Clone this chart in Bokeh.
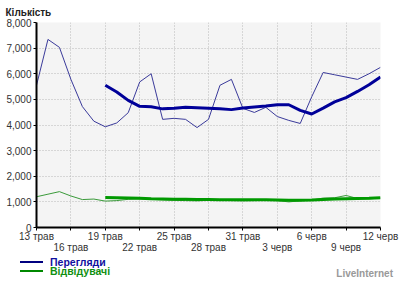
from bokeh.plotting import figure
from bokeh.layouts import column
from bokeh.embed import file_html
from bokeh.resources import INLINE
from bokeh.models import FixedTicker, NumeralTickFormatter, LinearAxis, Div

# ---- data ----
days = list(range(31))  # 13 трав .. 12 черв
tick_days = [0, 3, 6, 9, 12, 15, 18, 21, 24, 27, 30]
tick_labels = ["13 трав", "16 трав", "19 трав", "22 трав", "25 трав", "28 трав",
               "31 трав", "3 черв", "6 черв", "9 черв", "12 черв"]
y_ticks = [0, 1000, 2000, 3000, 4000, 5000, 6000, 7000, 8000]
series_names = ["Перегляди", "Відвідувачі"]

views_daily = [5550, 7340, 7030, 5780, 4720, 4150, 3930, 4080, 4480, 5680, 6000,
               4220, 4260, 4220, 3900, 4220, 5550, 5780, 4650, 4490, 4690,
               4330, 4180, 4060, 5100, 6050, 5960, 5870, 5780, 6000, 6250]
views_avg = [5550, 5290, 4960, 4730, 4710, 4630, 4650, 4690, 4670, 4650, 4630,
             4600, 4660, 4700, 4740, 4790, 4790, 4570, 4430, 4660, 4900, 5070,
             5310, 5570, 5870]
visitors_daily = [1200, 1300, 1400, 1230, 1090, 1110, 1030, 1050, 1100, 1120, 1100,
                  1080, 1060, 1050, 1040, 1060, 1070, 1050, 1040, 1050, 1060,
                  1050, 1000, 1040, 1070, 1150, 1160, 1250, 1130, 1120, 1150]
visitors_avg = [1170, 1160, 1150, 1140, 1120, 1110, 1100, 1100, 1090, 1090, 1080,
                1080, 1080, 1080, 1080, 1070, 1060, 1060, 1070, 1090, 1110, 1120,
                1130, 1140, 1160]
avg_days = days[6:]

FONT = "Liberation Sans"
P_H = 257

p = figure(width=400, height=P_H, x_range=(0, 30), y_range=(0, 8000),
           output_backend="svg", toolbar_location=None,
           min_border_left=36, min_border_right=20, min_border_top=22,
           min_border_bottom=30, background_fill_color="#f4f4f4",
           border_fill_color="white", outline_line_color=None)

# lines
p.line(days, views_daily, line_color="#3a3a9a", line_width=1)
p.line(avg_days, views_avg, line_color="#000099", line_width=3)
p.line(days, visitors_daily, line_color="#3a9a3a", line_width=1)
p.line(avg_days, visitors_avg, line_color="#009900", line_width=3)

# axes
xa = p.xaxis[0]
xa.ticker = FixedTicker(ticks=tick_days)
xa.major_label_overrides = {d: (t if i % 2 == 0 else "")
                            for i, (d, t) in enumerate(zip(tick_days, tick_labels))}
xb = LinearAxis(ticker=FixedTicker(ticks=tick_days[1::2]),
                major_label_overrides={d: t for d, t in zip(tick_days[1::2], tick_labels[1::2])},
                axis_line_color=None, major_tick_line_color=None, minor_tick_line_color=None,
                major_tick_out=0, major_tick_in=0,
                major_label_standoff=-3, major_label_text_font=FONT,
                major_label_text_font_size="10px", major_label_text_color="#333333")
p.add_layout(xb, "below")
p.xgrid.ticker = FixedTicker(ticks=tick_days)

p.yaxis.ticker = FixedTicker(ticks=y_ticks)
p.yaxis.formatter = NumeralTickFormatter(format="0,0")
for ax in (xa, p.yaxis[0]):
    ax.axis_line_color = "black"
    ax.axis_line_width = 2
    ax.major_tick_line_color = "black"
    ax.major_tick_out = 3
    ax.major_tick_in = 0
    ax.minor_tick_line_color = None
    ax.major_label_text_font = FONT
    ax.major_label_text_font_size = "10px"
    ax.major_label_text_color = "#333333"
p.yaxis.major_label_standoff = 2
xa.major_label_standoff = 0

p.grid.grid_line_color = "#b8b8b8"
p.grid.grid_line_dash = "1 2"
p.grid.grid_line_width = 1

# title
p.title.text = "Кількість"
p.title.align = "left"
p.title.offset = -31
p.title.standoff = 9
p.title.text_font = FONT
p.title.text_font_size = "10px"
p.title.text_font_style = "bold"
p.title.text_color = "#222222"

# legend strip (HTML text)
D_H = 281 - P_H
rows = [(series_names[0], "#000080", "#1010a0", 5), (series_names[1], "#008800", "#109010", 14)]
html = [f'<div style="position:relative;width:400px;height:{D_H}px;font-family:\'{FONT}\';'
        f'font-size:10.5px;font-weight:bold;">']
for name, lc, tc, cy in rows:
    html.append(f'<div style="position:absolute;left:20px;top:{cy - 1}px;width:23px;height:0;'
                f'border-top:2px solid {lc};"></div>')
    html.append(f'<div style="position:absolute;left:50px;top:{cy - 4.5}px;line-height:9px;'
                f'color:{tc};white-space:nowrap;">{name}</div>')
html.append('<div style="position:absolute;right:7px;top:11.5px;line-height:9px;font-size:10px;'
            'color:#999999;white-space:nowrap;">LiveInternet</div>')
html.append('</div>')
legend_div = Div(text="".join(html), width=400, height=D_H, margin=0)

layout = column(p, legend_div, spacing=0)
open("out.html", "w").write(file_html(layout, INLINE))
